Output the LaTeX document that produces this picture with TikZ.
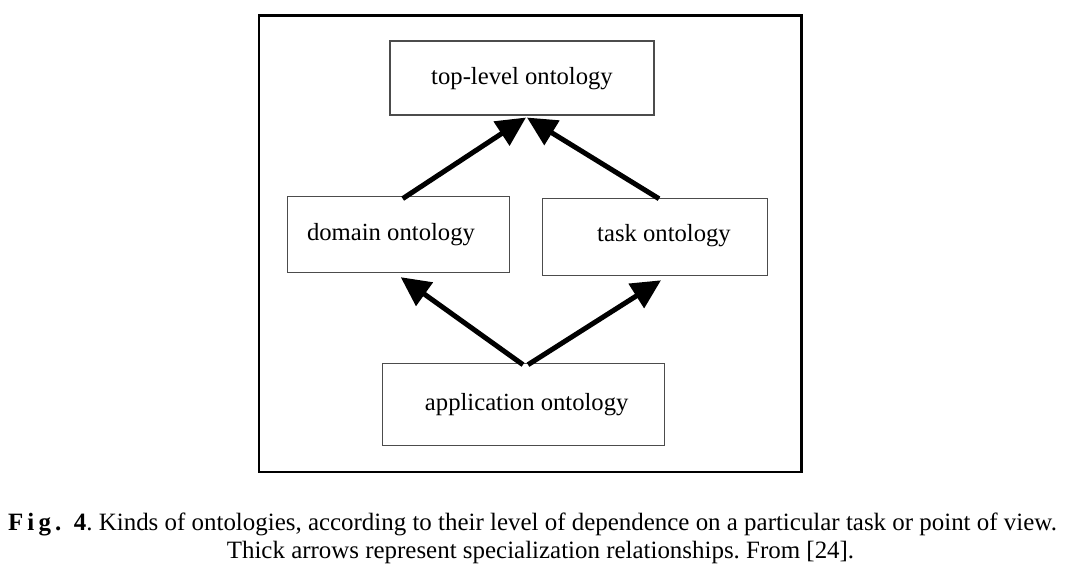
\documentclass[tikz,border=0pt]{standalone}
\usepackage{fontspec}
\setmainfont{Liberation Serif}
\usetikzlibrary{arrows.meta}
\frenchspacing
\begin{document}
\begin{tikzpicture}[x=0.75pt,y=-0.75pt,line join=miter,
  box/.style={draw=black!70,line width=0.8pt,minimum width=#1,inner sep=0pt},
  lbl/.style={font=\fontsize{18.5}{22}\selectfont,inner sep=0pt},
  spec/.style={line width=3.75pt,-{Triangle[length=22pt,width=21pt]}}]
\useasboundingbox (0,0) rectangle (1073,584);
% frame
\draw[line width=1.9pt] (259,15.5) rectangle (801.5,472);
% boxes
\node[box=264*0.75pt,minimum height=74*0.75pt] (top) at (522,78) {};
\node[box=222.5*0.75pt,minimum height=76.5*0.75pt] (dom) at (398.7,234.4) {};
\node[box=224.5*0.75pt,minimum height=77.5*0.75pt] (task) at (655,237) {};
\node[box=282.5*0.75pt,minimum height=82.5*0.75pt] (app) at (523.5,404.5) {};
\node[lbl] (toptxt) at (522,79) {top-level ontology};
\node[lbl] (domtxt) at (391,234.5) {domain ontology};
\node[lbl] (tasktxt) at (664,235.5) {task ontology};
\node[lbl] (apptxt) at (526.7,405) {application ontology};
% specialization arrows
\draw[spec] ([shift={(4,3)}]dom.north) -- ([shift={(4,2)}]top.south);
\draw[spec] ([shift={(4,1)}]task.north) -- ([shift={(5,2)}]top.south);
\draw[spec] ([shift={(-0.5,2)}]app.north) -- ([shift={(2,4)}]dom.south);
\draw[spec] ([shift={(4.5,2)}]app.north) -- ([shift={(6,4)}]task.south);
% caption
\node[font=\fontsize{18.7}{23}\selectfont,inner sep=0pt] (cap1) at (532.5,524) {\textbf{F\,i\,g\,.\ \ 4}. Kinds of ontologies, according to their level of dependence on a particular task or point of view.};
\node[font=\fontsize{18.7}{23}\selectfont,inner sep=0pt] (cap2) at (540.5,552) {Thick arrows represent specialization relationships. From [24].};
\end{tikzpicture}
\end{document}
